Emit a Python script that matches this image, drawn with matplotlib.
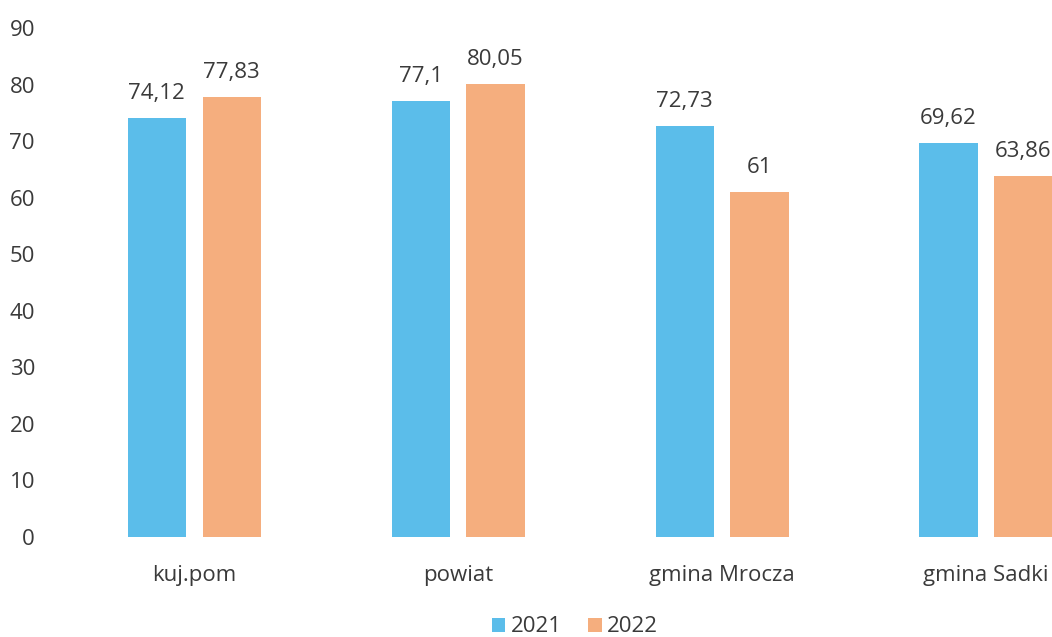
import matplotlib.pyplot as plt
import numpy as np

plt.rcParams['font.family'] = ['Open Sans', 'DejaVu Sans']

# data
categories = ['kuj.pom', 'powiat', 'gmina Mrocza', 'gmina Sadki']
years = ['2021', '2022']
values_2021 = [74.12, 77.1, 72.73, 69.62]
values_2022 = [77.83, 80.05, 61, 63.86]
yticks = [0, 10, 20, 30, 40, 50, 60, 70, 80, 90]

colors = ['#5bbdea', '#f5ae7e']
text_col = '#3a3a3a'

fig = plt.figure(figsize=(10.52, 6.37), dpi=100)
ax = fig.add_axes([0.057, 0.157, 0.943, 0.799])

x = np.arange(len(categories))
w = 0.22
off = 0.142

for vals, dx, col, lab in zip([values_2021, values_2022], [-off, off], colors, years):
    bars = ax.bar(x + dx, vals, width=w, color=col, label=lab)
    for b, v in zip(bars, vals):
        ax.annotate(f"{v:g}".replace('.', ','),
                    (b.get_x() + b.get_width() / 2, b.get_height()),
                    xytext=(0, 10), textcoords='offset points',
                    ha='center', va='bottom', fontsize=16, color=text_col)

ax.set_xlim(-0.508, 3.25)
ax.set_ylim(0, 90)
ax.set_yticks(yticks)
ax.set_xticks(x)
ax.set_xticklabels(categories)
ax.tick_params(axis='both', length=0, labelsize=16, colors=text_col)
ax.tick_params(axis='y', pad=18)
ax.tick_params(axis='x', pad=20)
for s in ax.spines.values():
    s.set_visible(False)

fig.legend(loc='center', bbox_to_anchor=(575 / 1052, 1 - 627 / 637), ncol=2,
           frameon=False, fontsize=16, handlelength=0.6, handleheight=0.6,
           handletextpad=0.25, columnspacing=1.2, labelcolor=text_col)

fig.savefig('out.png', dpi=100)
